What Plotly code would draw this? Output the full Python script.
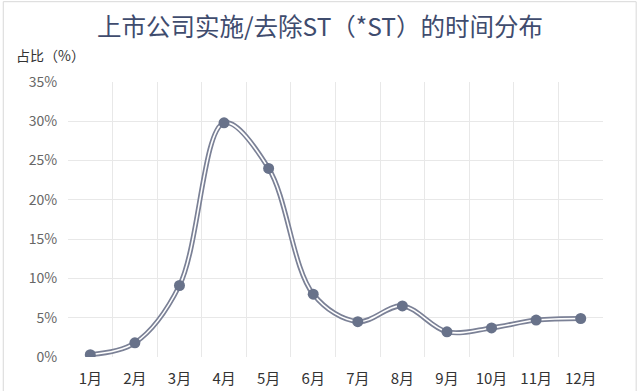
import plotly.graph_objects as go

months = ["1月", "2月", "3月", "4月", "5月", "6月", "7月", "8月", "9月", "10月", "11月", "12月"]
share = [0.3, 1.8, 9.1, 29.8, 24.0, 8.0, 4.5, 6.5, 3.2, 3.7, 4.7, 4.9]
y_ticks = [0, 5, 10, 15, 20, 25, 30, 35]
y_ticktext = [f"{v}%" for v in y_ticks]

xpos = list(range(1, len(months) + 1))
bounds = [i + 0.5 for i in range(0, len(months) + 1)]

font_family = "Noto Sans CJK SC, Noto Sans, sans-serif"

fig = go.Figure()
fig.add_trace(go.Scatter(x=xpos, y=share, mode="lines",
                         line=dict(color="#7b8196", width=5, shape="spline", smoothing=1),
                         hoverinfo="skip", showlegend=False))
fig.add_trace(go.Scatter(x=xpos, y=share, mode="lines",
                         line=dict(color="#ffffff", width=1.6, shape="spline", smoothing=1),
                         hoverinfo="skip", showlegend=False))
fig.add_trace(go.Scatter(x=xpos, y=share, mode="markers",
                         marker=dict(color="#68728a", size=11),
                         showlegend=False))

fig.update_layout(
    width=640, height=391,
    margin=dict(l=68, r=37, t=82, b=33.5),
    paper_bgcolor="white", plot_bgcolor="white",
    font=dict(family=font_family),
    title=dict(text="上市公司实施/去除ST（*ST）的时间分布", x=0.5, xanchor="center",
               y=0.931, yanchor="middle",
               font=dict(size=24.5, color="#3f4c6e", family=font_family)),
    xaxis=dict(range=[0.5, len(months) + 0.5], tickmode="array", tickvals=bounds,
               ticktext=["" for _ in bounds], showgrid=True, gridcolor="#e8e8e8",
               gridwidth=1, zeroline=False, showline=False, ticks="", automargin=False),
    xaxis2=dict(range=[0.5, len(months) + 0.5], overlaying="x", side="bottom",
                tickmode="array", tickvals=xpos, ticktext=months, showgrid=False,
                zeroline=False, showline=False, ticks="outside", ticklen=8,
                tickcolor="rgba(0,0,0,0)", automargin=False,
                tickfont=dict(size=15, color="#333333", family=font_family)),
    yaxis=dict(range=[0, 35], tickmode="array", tickvals=y_ticks, ticktext=y_ticktext,
               showgrid=True, gridcolor="#e8e8e8", gridwidth=1, zeroline=False,
               showline=False, ticks="outside", ticklen=7, tickcolor="rgba(0,0,0,0)",
               automargin=False,
               tickfont=dict(size=14, color="#666666", family=font_family)),
    annotations=[dict(text="占比（%）", xref="paper", yref="paper", x=-0.101, y=1.098,
                      xanchor="left", yanchor="middle", showarrow=False,
                      font=dict(size=14, color="#333333", family=font_family))],
    shapes=[dict(type="rect", xref="paper", yref="paper", x0=-0.121, x1=1.062, y0=-0.3, y1=1.292,
                 line=dict(color="#d8d8d8", width=1), layer="below")],
)
# dummy trace to activate xaxis2
fig.add_trace(go.Scatter(x=[xpos[0]], y=[share[0]], xaxis="x2", mode="markers",
                         marker=dict(opacity=0), hoverinfo="skip", showlegend=False))

fig.write_html("out.html", config={"displayModeBar": False},
               post_script="document.body.style.margin='0';")
